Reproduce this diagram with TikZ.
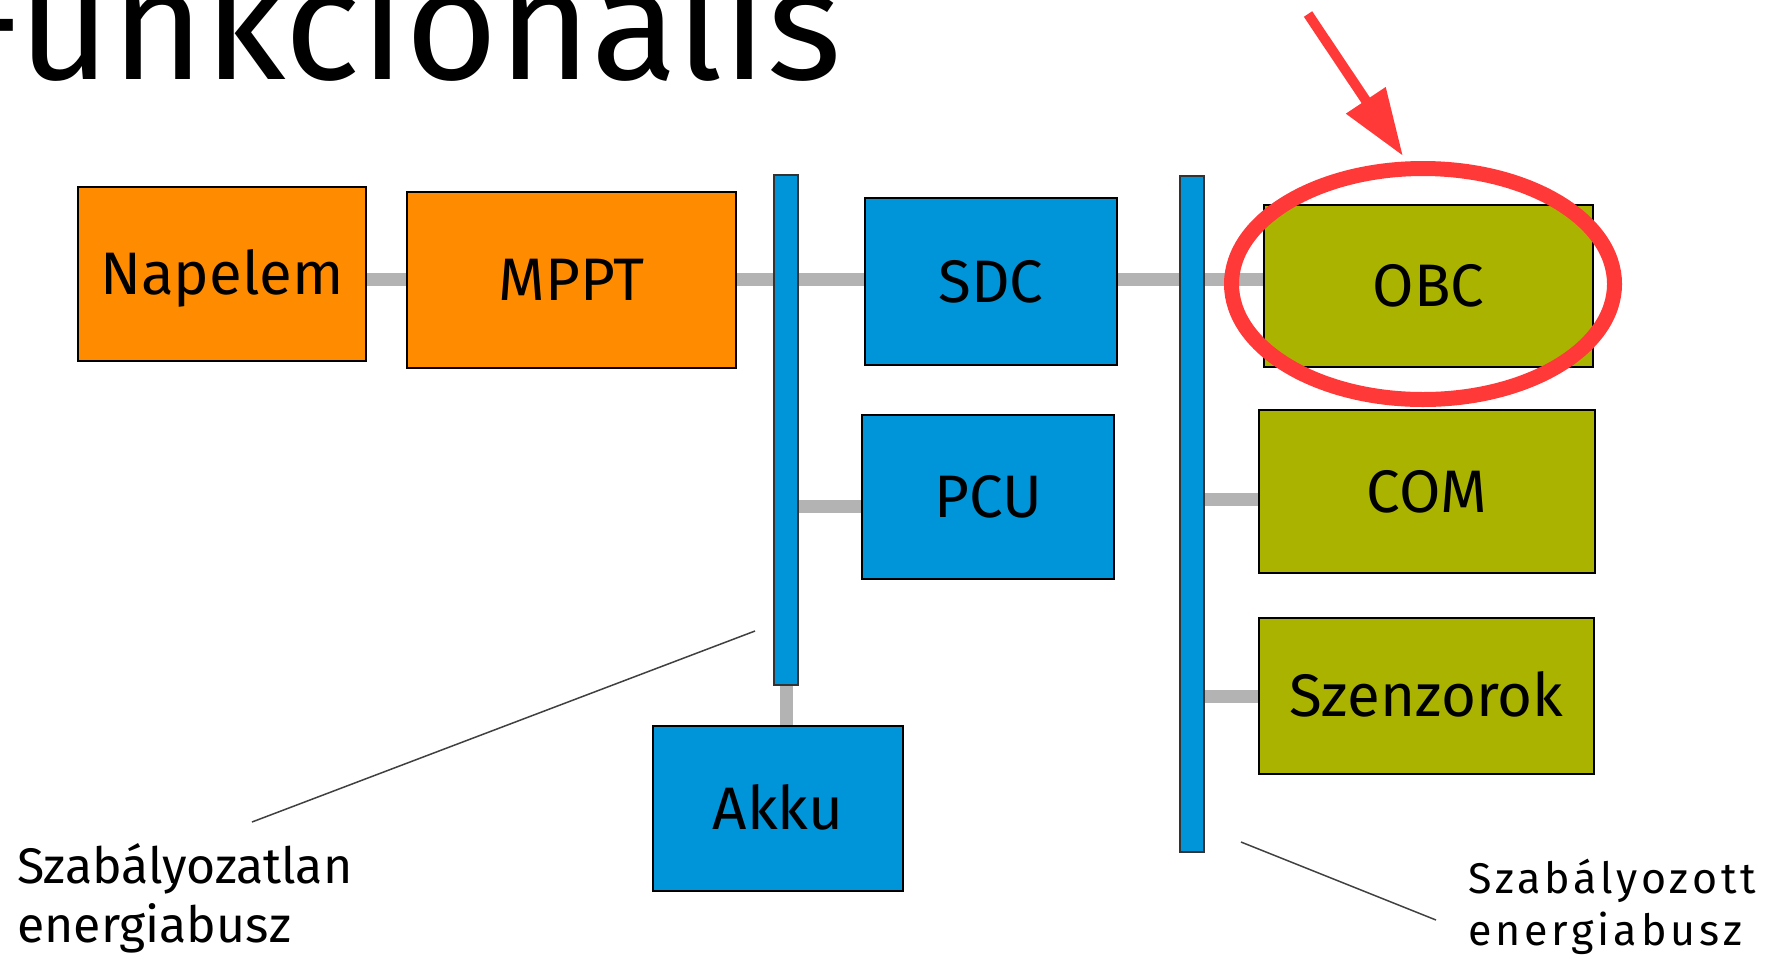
\documentclass[tikz,border=0pt]{standalone}
\usepackage{fontspec}
\setmainfont{Fira Sans}
\usetikzlibrary{arrows.meta,shapes.geometric}
\definecolor{busblue}{HTML}{0094D9}
\definecolor{boxorange}{HTML}{FF8C00}
\definecolor{boxolive}{HTML}{AAB400}
\definecolor{hlred}{HTML}{FF3838}
\definecolor{conngray}{HTML}{B3B3B3}
\begin{document}
\begin{tikzpicture}[x=1pt,y=-1pt,
  box/.style={draw=black, line width=1.5pt, inner sep=0pt, text height=41pt, text depth=0pt, font=\fontsize{60}{72}\selectfont},
  bus/.style={draw=black!80, line width=1.5pt, fill=busblue, inner sep=0pt, minimum width=24pt},
  conn/.style={draw=conngray, line width=13pt},
  leader/.style={draw=black!75, line width=1.5pt},
  lbl/.style={inner sep=0pt, align=left, anchor=base west}]
\useasboundingbox (0,0) rectangle (1769,970);
\clip (0,0) rectangle (1769,970);

% title
\node[inner sep=0pt, anchor=base east, font=\fontsize{159}{159}\selectfont] (title) at (842,79) {Funkcionális};

% row coordinates
\coordinate (r1) at (0,279);
\coordinate (r2) at (0,506);
\coordinate (r3) at (0,499);
\coordinate (r4) at (0,696);

% boxes
\node[box, fill=boxorange, minimum width=288pt, minimum height=174pt] (nap) at (222,274) {Napelem};
\node[box, fill=boxorange, minimum width=329pt, minimum height=176pt] (mppt) at (571.5,280) {MPPT};
\node[box, fill=busblue, minimum width=252pt, minimum height=167pt] (sdc) at (991,281.5) {SDC};
\node[box, fill=busblue, minimum width=252pt, minimum height=164pt] (pcu) at (988,497) {PCU};
\node[box, fill=busblue, minimum width=250pt, minimum height=165pt] (akku) at (778,808.5) {Akku};
\node[box, fill=boxolive, minimum width=329pt, minimum height=162pt] (obc) at (1428.5,286) {OBC};
\node[box, fill=boxolive, minimum width=336pt, minimum height=163pt] (com) at (1427,491.5) {COM};
\node[box, fill=boxolive, minimum width=335pt, minimum height=156pt] (szen) at (1426.5,696) {Szenzorok};

% connectors (drawn before the buses, so the buses cover them)
\coordinate (b1) at (786,430);
\coordinate (b2) at (1192,514);
\draw[conn] (nap.east |- r1) -- (mppt.west |- r1);
\draw[conn] (mppt.east |- r1) -- (b1 |- r1);
\draw[conn] (b1 |- r1) -- (sdc.west |- r1);
\draw[conn] (b1 |- r2) -- (pcu.west |- r2);
\draw[conn] (b1) -- (b1 |- akku.north);
\draw[conn] (sdc.east |- r1) -- (b2 |- r1);
\draw[conn] (b2 |- r1) -- (obc.west |- r1);
\draw[conn] (b2 |- r3) -- (com.west |- r3);
\draw[conn] (b2 |- r4) -- (szen.west |- r4);

% buses
\node[bus, minimum height=510pt] (bus1) at (b1) {};
\node[bus, minimum height=676pt] (bus2) at (b2) {};

% leaders and labels
\coordinate (l1a) at (755,631);
\coordinate (l1b) at (252,822);
\coordinate (l2a) at (1241,842);
\coordinate (l2b) at (1436,920);
\draw[leader] (l1a) -- (l1b);
\draw[leader] (l2a) -- (l2b);
\node[lbl, font=\fontsize{50}{59}\selectfont] (lab1) at (17,942) {Szabályozatlan\\energiabusz};
\node[lbl, font=\fontsize{43}{52}\selectfont\addfontfeature{LetterSpace=9}] (lab2) at (1468,945) {Szabályozott\\energiabusz};

% highlight
\node[ellipse, draw=hlred, line width=15pt, minimum width=383pt, minimum height=231pt, inner sep=0pt] (hl) at (1423,284) {};
\coordinate (a0) at (1308,14);
\coordinate (a1) at (1403,156);
\draw[hlred, line width=10pt, -{Triangle[length=67pt,width=45pt]}] (a0) -- (a1);
\end{tikzpicture}
\end{document}
